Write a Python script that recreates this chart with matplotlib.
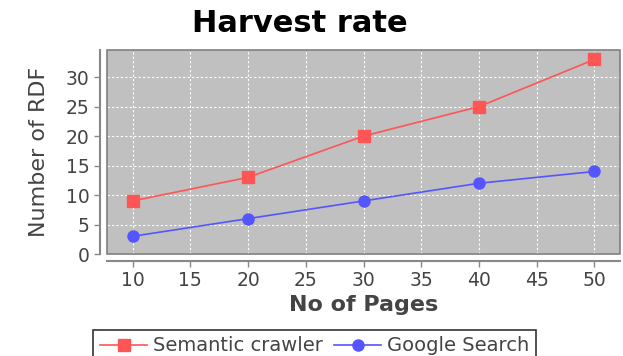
import matplotlib
matplotlib.use("Agg")
import matplotlib.pyplot as plt
from matplotlib.patches import Rectangle

pages = [10, 20, 30, 40, 50]
semantic = [9, 13, 20, 25, 33]
google = [3, 6, 9, 12, 14]
xticks = [10, 15, 20, 25, 30, 35, 40, 45, 50]
yticks = [0, 5, 10, 15, 20, 25, 30]

fig = plt.figure(figsize=(6.23, 3.56), dpi=100)
ax = fig.add_axes([0.172, 0.2865, 0.823, 0.573])
ax.set_facecolor("#c0c0c0")

ax.plot(pages, semantic, color="#ff5555", marker="s", markersize=8, lw=1.2, label="Semantic crawler")
ax.plot(pages, google, color="#5555ff", marker="o", markersize=8, lw=1.2, label="Google Search")

ax.set_xlim(7.8, 52.2)
ax.set_ylim(0, 34.6)
ax.set_xticks(xticks)
ax.set_yticks(yticks)
ax.grid(True, color="white", linestyle=(0, (2, 2)), lw=0.8)
ax.set_axisbelow(True)

for s in ["top", "right"]:
    ax.spines[s].set_visible(False)
for s in ["left", "bottom"]:
    ax.spines[s].set_position(("outward", 5))
    ax.spines[s].set_color("#888888")
    ax.spines[s].set_linewidth(1.5)
ax.add_patch(Rectangle((0, 0), 1, 1, transform=ax.transAxes, fill=False,
                       edgecolor="#808080", lw=1.2, clip_on=False, zorder=5))

ax.tick_params(axis="both", colors="#888888", labelcolor="#444444", labelsize=13.5, length=4, width=1)

ax.set_xlabel("No of Pages", fontsize=16, fontweight="bold", color="#444444", labelpad=3)
ax.set_ylabel("Number of RDF", fontsize=16, color="#444444", labelpad=12)
fig.suptitle("Harvest rate", fontsize=22, fontweight="heavy", x=0.482, y=0.975)

leg = fig.legend(loc="lower center", bbox_to_anchor=(0.505, -0.045), ncol=2, fontsize=14,
                 frameon=True, fancybox=False, edgecolor="black", handlelength=2.4,
                 columnspacing=0.6, handletextpad=0.3, borderpad=0.35)
leg.get_frame().set_linewidth(1.2)
for t in leg.get_texts():
    t.set_color("#444444")

fig.savefig("out.png", dpi=100)
